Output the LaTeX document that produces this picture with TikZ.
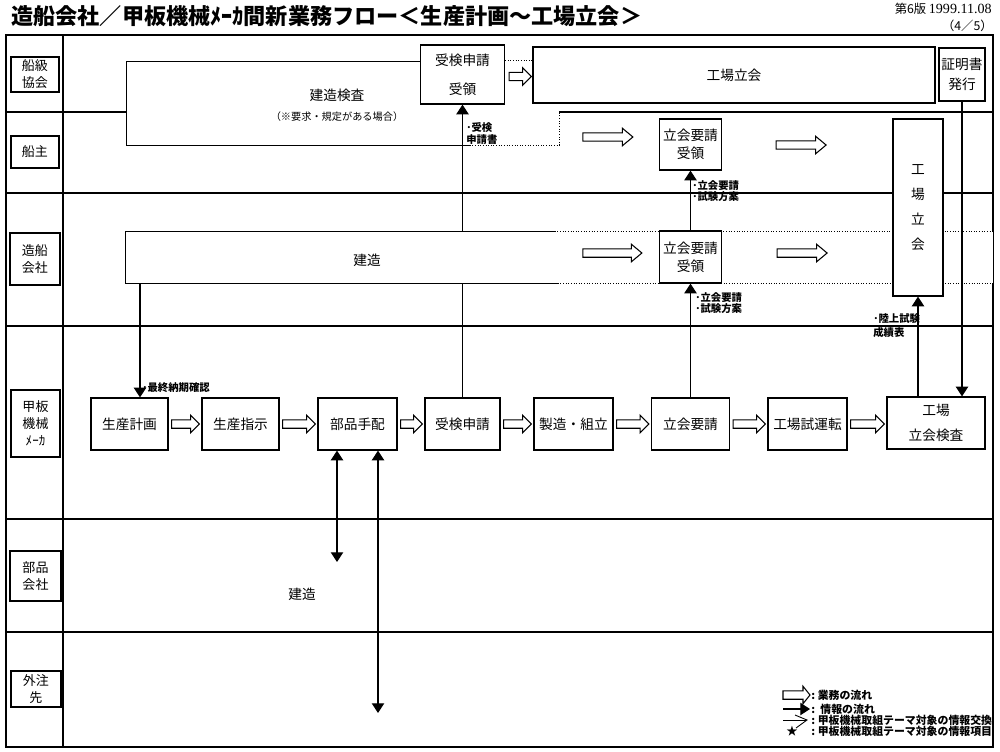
\documentclass[tikz,border=0pt]{standalone}
\usepackage{fontspec}
\setmainfont{Noto Sans CJK JP}
\newfontfamily\datefont{Liberation Serif}
\usetikzlibrary{positioning,arrows.meta,calc}

% hollow arrow for the business flow
\newcommand{\flowarrow}[3][5pt]{%
  \draw[flowline] let \p1=(#2), \p2=(#3) in
    (\x1,\y1+2.4pt) -- (\x2-#1,\y1+2.4pt) -- (\x2-#1,\y1+5pt) -- (\x2,\y1)
    -- (\x2-#1,\y1-5pt) -- (\x2-#1,\y1-2.4pt) -- (\x1,\y1-2.4pt) -- cycle;}

\begin{document}
\begin{tikzpicture}[x=0.02cm, y=-0.02cm,
  lanebox/.style={draw, line width=0.8pt, inner sep=0pt, align=center,
    font=\fontsize{7.4}{9.6}\selectfont},
  task/.style={draw, line width=0.7pt, fill=white, inner sep=0pt, align=center,
    minimum height=1.04cm, font=\fontsize{7.8}{9.4}\selectfont},
  info/.style={line width=0.6pt, -{Triangle[length=5.5pt,width=7pt]}},
  infoboth/.style={line width=0.6pt,
    {Triangle[length=5.5pt,width=7pt]}-{Triangle[length=5.5pt,width=7pt]}},
  flowline/.style={line width=0.6pt, fill=white},
  lane/.style={line width=0.9pt},
  faint/.style={line width=0.5pt, densely dotted},
  memo/.style={anchor=north west, inner sep=0pt, align=left,
    font=\fontsize{5.9}{6.7}\selectfont\bfseries},
  note/.style={inner sep=0pt, align=center, font=\fontsize{7.8}{9.4}\selectfont},
  legend/.style={anchor=west, inner sep=0pt, font=\fontsize{6.2}{7}\selectfont\bfseries}
]
\useasboundingbox (0,0) rectangle (1000,751);

% title
\node[anchor=west, inner sep=0pt, font=\fontsize{12.6}{14}\selectfont\bfseries] (title) at (11,16)
  {造船会社／甲板機械ﾒｰｶ間新業務フロー＜生産計画～工場立会＞};
\node[anchor=east, inner sep=0pt, font=\fontsize{7}{8}\selectfont] (edition) at (992,9)
  {第6版 {\datefont\fontsize{8}{9}\selectfont 1999.11.08}};
\node[anchor=east, inner sep=0pt, font=\fontsize{7}{8}\selectfont] (page) at (993,26) {（4／5）};

% frame and lanes
\coordinate (l1) at (0,112);
\draw[lane] (6,35) rectangle (993,747);
\draw[lane] (63,35) -- (63,747);
\foreach \y in {193,326,519,632}{
  \draw[lane] (6,\y) -- (993,\y);
}

% lane labels
\node[lanebox, minimum width=0.96cm, minimum height=0.70cm] (ls1) at (35,74.5) {船級\\協会};
\node[lanebox, minimum width=0.96cm, minimum height=0.64cm] (ls2) at (35,152) {船主};
\node[lanebox, minimum width=1.00cm, minimum height=1.04cm] (ls3) at (35,259) {造船\\会社};
\node[lanebox, minimum width=0.98cm, minimum height=1.34cm] (ls4) at (35.5,423.5) {甲板\\機械\\ﾒｰｶ};
\node[lanebox, minimum width=1.02cm, minimum height=1.00cm] (ls5) at (35.5,576) {部品\\会社};
\node[lanebox, minimum width=1.00cm, minimum height=0.72cm] (ls6) at (36,689) {外注\\先};

% 甲板機械メーカ
\node[task, minimum width=1.54cm] (seisan)   at (129.5,424) {生産計画};
\node[task, minimum width=1.54cm] (shiji)    at (240.5,424) {生産指示};
\node[task, minimum width=1.58cm] (buhin)    at (357.5,424) {部品手配};
\node[task, minimum width=1.50cm] (juken)    at (462.5,424) {受検申請};
\node[task, minimum width=1.58cm] (seizo)    at (573.5,424) {製造・組立};
\node[task, minimum width=1.56cm] (tachi)    at (690.5,424) {立会要請};
\node[task, minimum width=1.58cm] (shiunten) at (807.5,424) {工場試運転};
\node[task, minimum width=1.96cm] (kensaK)   at (936,423) {工場\\[5pt]立会検査};

% 船級協会 / 船主
\node[inner sep=0pt, minimum width=8.64cm, minimum height=1.66cm] (kensa) at (343,103.5) {};
\node[task, minimum width=1.68cm, minimum height=1.18cm] (jukenR) at (462.5,74.5) {受検申請\\[7pt]受領};
\node[task, minimum width=8.04cm, minimum height=1.12cm] (koujouR) at (734,75) {工場立会};
\node[task, minimum width=0.92cm, minimum height=1.06cm] (shomei) at (962,74.5) {証明書\\[2pt]発行};
\draw[lane] (6,112) -- (kensa.west |- l1);
\draw[lane] (kensa.east |- l1) -- (993,112);
\draw[line width=0.7pt] (jukenR.west |- kensa.north) -- (kensa.north west) -- (kensa.south west) -- ++(343,0);
\draw[faint] ($(kensa.south west)+(343,0)$) -- (kensa.south east) -- (kensa.east |- l1);
\coordinate (kd) at ($(jukenR.north east)+(0,16)$);
\draw[faint] (kd) -- (kd -| koujouR.west);
\node[note] (kensaT) at (337,95) {建造検査};
\node[note, font=\fontsize{5.8}{7}\selectfont] (kensaN) at (337,117) {（※要求・規定がある場合）};

% info line behind the 建造 box
\draw[info] (juken.north) -- (jukenR.south);

% 造船会社
\node[inner sep=0pt, minimum width=17.34cm, minimum height=1.02cm, fill=white] (kenzo) at (559.5,257.5) {};
\draw[line width=0.7pt] (kenzo.north west) ++(429,0) -- (kenzo.north west) -- (kenzo.south west) -- ++(432,0);
\draw[faint] ($(kenzo.north west)+(429,0)$) -- (kenzo.north east);
\draw[faint] ($(kenzo.south west)+(432,0)$) -- (kenzo.south east);
\node[note] (kenzoT) at (367,260) {建造};

\node[task, minimum width=1.24cm, minimum height=1.02cm] (tachiS) at (690.5,144.5) {立会要請\\[1pt]受領};
\node[task, minimum width=1.24cm, minimum height=1.04cm] (tachiZ) at (690.5,257) {立会要請\\[1pt]受領};
\node[task, minimum width=1.00cm, minimum height=3.54cm, font=\fontsize{7.8}{14.2}\selectfont]
  (kojoV) at (918,207.5) {工\\場\\立\\会};

% 部品会社
\node[note] (buhinT) at (302,594) {建造};

% business flow
\foreach \a/\b in {seisan/shiji, shiji/buhin, buhin/juken, juken/seizo,
                   seizo/tachi, tachi/shiunten, shiunten/kensaK}{
  \flowarrow{$(\a.east)+(3,0)$}{$(\b.west)+(-2,0)$}
}
\flowarrow{$(jukenR.east)+(4,2)$}{$(koujouR.west)+(-1,2)$}
\flowarrow[6pt]{$(tachiS.west)+(-76,-7.5)$}{$(tachiS.west)+(-26,-7.5)$}
\flowarrow[6pt]{$(tachiS.east)+(54,0.5)$}{$(tachiS.east)+(104,0.5)$}
\flowarrow[6pt]{$(tachiZ.west)+(-76,-4)$}{$(tachiZ.west)+(-17,-4)$}
\flowarrow[6pt]{$(tachiZ.east)+(55,-4)$}{$(tachiZ.east)+(105,-4)$}

% information flow
\coordinate (c1) at ($(seisan.north)+(10.5,0)$);
\coordinate (bu1) at (337,562);
\coordinate (ga1) at (378,713);
\draw[info] (c1 |- kenzo.south) -- (c1);
\draw[info] (tachi.north) -- (tachiZ.south);
\draw[info] (tachiZ.north) -- (tachiS.south);
\draw[info] (kojoV.south |- kensaK.north) -- (kojoV.south);
\draw[info] (shomei.south) -- (shomei.south |- kensaK.north);
\draw[infoboth] (bu1 |- buhin.south) -- (bu1);
\draw[infoboth] (ga1 |- buhin.south) -- (ga1);

\node[memo] (m1) at (466,122) {･受検\\申請書};
\node[memo] (m2) at (692,180) {･立会要請\\･試験方案};
\node[memo] (m3) at (695,292) {･立会要請\\･試験方案};
\node[memo] (m4) at (873,313) {･陸上試験\\[1.5pt]成績表};
\node[memo] (m5) at (142,382) {･最終納期確認};

% legend
\begin{scope}
\clip (6,35) rectangle (993,747);
\coordinate (lg1) at (783,695);
\coordinate (lg2) at (783,709);
\coordinate (lg3) at (783,720);
\flowarrow[4pt]{lg1}{$(lg1)+(27,0)$}
\draw[info] (lg2) -- ++(27,0);
\draw[line width=0.5pt] (lg3) -- ++(23,0);
\draw[line width=0.5pt] ($(lg3)+(12,-5)$) -- ($(lg3)+(24,0)$) -- ($(lg3)+(13,8)$);
\node[inner sep=0pt, font=\fontsize{6.5}{7}\selectfont] (lg4) at (792,731) {★};
\node[legend] (lt1) at (811,695) {:\hspace{1.5pt}業務の流れ};
\node[legend] (lt2) at (811,709) {:\hspace{3pt}情報の流れ};
\node[legend] (lt3) at (811,720) {:\hspace{1.5pt}甲板機械取組テーマ対象の情報交換};
\node[legend] (lt4) at (811,731) {:\hspace{1.5pt}甲板機械取組テーマ対象の情報項目};
\end{scope}
\end{tikzpicture}
\end{document}
